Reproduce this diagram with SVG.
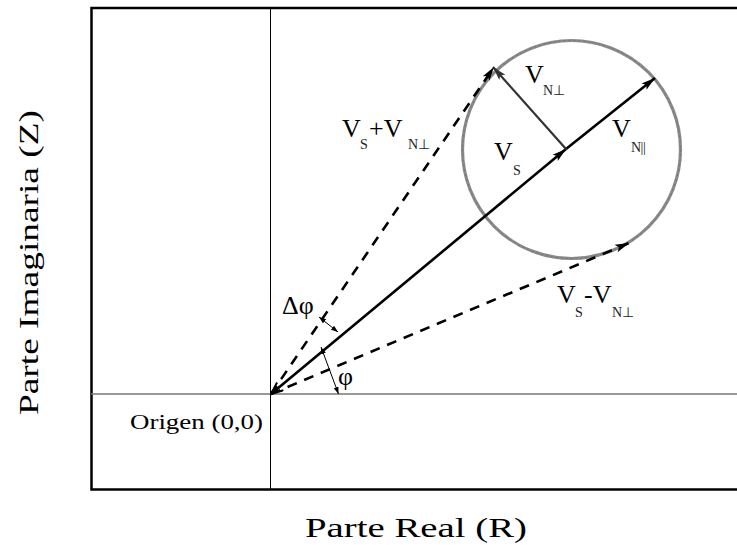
<svg xmlns="http://www.w3.org/2000/svg" width="737" height="553" viewBox="0 0 737 553">
  <style>
    text { font-family: "Liberation Serif", "Times New Roman", Tinos, serif; font-weight: normal; fill: #000; }
    .big { font-size: 26px; }
    .sub { font-size: 14px; fill: #222; }
    .axislbl { font-size: 28px; }
    .frame { fill: none; stroke: #000; stroke-width: 2.5; }
    .vec { stroke: #000; stroke-width: 2.6; fill: none; }
    .dash { stroke: #000; stroke-width: 2.6; stroke-dasharray: 10 8; fill: none; }
    .thin { stroke: #000; stroke-width: 1; fill: none; }
  </style>
  <defs>
    <marker id="ah" markerUnits="userSpaceOnUse" markerWidth="16" markerHeight="10" refX="14" refY="5" orient="auto">
      <path d="M0,1 L14,5 L0,9 L3,5 Z" fill="#000"/>
    </marker>
    <marker id="ahg" markerUnits="userSpaceOnUse" markerWidth="16" markerHeight="10" refX="14" refY="5" orient="auto">
      <path d="M0,1 L14,5 L0,9 L3,5 Z" fill="#333"/>
    </marker>
    <marker id="ahopen" markerUnits="userSpaceOnUse" markerWidth="16" markerHeight="12" refX="1" refY="6" orient="auto">
      <path d="M13,1 L1,6 L13,11" fill="none" stroke="#000" stroke-width="2"/>
    </marker>
    <marker id="sm" markerUnits="userSpaceOnUse" markerWidth="8" markerHeight="6" refX="7" refY="3" orient="auto-start-reverse">
      <path d="M0,0.5 L7,3 L0,5.5 Z" fill="#000"/>
    </marker>
  </defs>

  <!-- frame and axes -->
  <g id="frame">
    <path class="frame" d="M737,8 L91.5,8 L91.5,489.5 L737,489.5"/>
    <line x1="91" y1="394" x2="737" y2="394" stroke="#777" stroke-width="1.6"/>
    <line class="thin" x1="270.5" y1="8" x2="270.5" y2="489"/>
  </g>

  <!-- circle -->
  <g id="circle">
    <circle cx="571.5" cy="149.5" r="109" fill="none" stroke="#8a8a8a" stroke-width="3.2"/>
    <circle cx="571.5" cy="149.5" r="109" fill="none" stroke="#666" stroke-width="1" stroke-dasharray="2 3" opacity="0.6"/>
  </g>

  <!-- connectors -->
  <g id="connectors">
    <line class="vec" x1="271" y1="394" x2="566" y2="149" marker-start="url(#ahopen)" marker-end="url(#ah)"/>
    <line class="vec" x1="566" y1="149" x2="655" y2="78" marker-end="url(#ah)"/>
    <line x1="566" y1="149" x2="493" y2="67" stroke="#333" stroke-width="2.2" marker-end="url(#ahg)"/>
    <line class="dash" x1="271" y1="394" x2="494" y2="67" marker-end="url(#ah)"/>
    <line class="dash" x1="271" y1="394" x2="629" y2="243" marker-end="url(#ah)"/>
    <line x1="319" y1="317" x2="338" y2="332" stroke="#000" stroke-width="1" marker-start="url(#sm)" marker-end="url(#sm)"/>
    <line x1="321" y1="347" x2="338.5" y2="394" stroke="#000" stroke-width="1" marker-start="url(#sm)" marker-end="url(#sm)"/>
  </g>

  <!-- labels -->
  <g id="lbl-vs-plus">
    <text class="big" x="342" y="137">V</text>
    <text class="sub" x="360" y="149">S</text>
    <text class="big" x="369" y="137">+V</text>
    <text class="sub" x="408" y="149">N⊥</text>
  </g>
  <g id="lbl-vnperp">
    <text class="big" x="525" y="83">V</text>
    <text class="sub" x="543" y="95">N⊥</text>
  </g>
  <g id="lbl-vs">
    <text class="big" x="494" y="160">V</text>
    <text class="sub" x="513" y="175">S</text>
  </g>
  <g id="lbl-vnpar">
    <text class="big" x="612" y="137">V</text>
    <text class="sub" x="631" y="152" letter-spacing="-0.5">N||</text>
  </g>
  <g id="lbl-vs-minus">
    <text class="big" x="557" y="303">V</text>
    <text class="sub" x="575" y="317">S</text>
    <text class="big" x="584" y="303">-V</text>
    <text class="sub" x="612" y="317">N⊥</text>
  </g>
  <g id="lbl-dphi">
    <text class="big" x="282" y="314">Δφ</text>
  </g>
  <g id="lbl-phi">
    <text class="big" x="338" y="385">φ</text>
  </g>
  <g id="lbl-origin">
    <text x="130" y="429" font-size="22" textLength="133" lengthAdjust="spacingAndGlyphs">Origen (0,0)</text>
  </g>
  <g id="lbl-axes">
    <text class="axislbl" x="305" y="537" textLength="222" lengthAdjust="spacingAndGlyphs">Parte Real (R)</text>
    <text class="axislbl" x="0" y="0" transform="translate(38,415) rotate(-90)" textLength="305" lengthAdjust="spacingAndGlyphs">Parte Imaginaria (Z)</text>
  </g>
</svg>
